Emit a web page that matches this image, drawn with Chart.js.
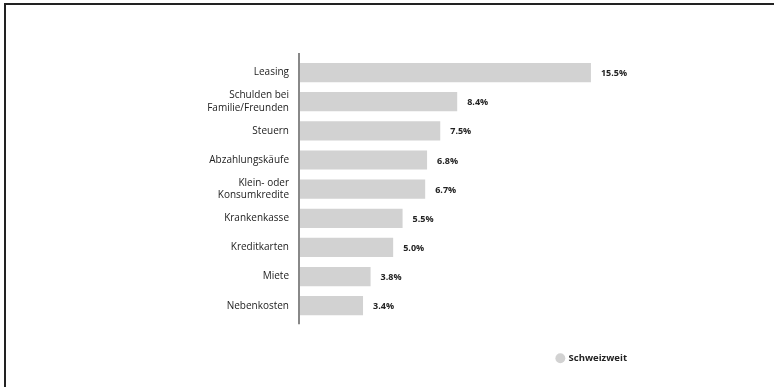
<!DOCTYPE html>
<html>
<head>
<meta charset="utf-8">
<script src="https://cdn.jsdelivr.net/npm/chart.js@4"></script>
<style>
  html, body { margin: 0; padding: 0; background: #fff; }
  #wrap { position: relative; width: 774px; height: 387px; }
  #frame { position: absolute; left: 4px; top: 3px; right: 0; bottom: 0;
           border-top: 2px solid #222; border-left: 2px solid #222; pointer-events: none; }
</style>
</head>
<body>
<div id="wrap">
  <canvas id="grafico" width="774" height="387"></canvas>
  <div id="frame"></div>
</div>
<script>
const categorias = [
  "Leasing",
  ["Schulden bei", "Familie/Freunden"],
  "Steuern",
  "Abzahlungskäufe",
  ["Klein- oder", "Konsumkredite"],
  "Krankenkasse",
  "Kreditkarten",
  "Miete",
  "Nebenkosten"
];
const valoresSchweizweit = [15.5, 8.4, 7.5, 6.8, 6.7, 5.5, 5.0, 3.8, 3.4];
const nomeSerie = "Schweizweit";

const fonte = "'Open Sans', sans-serif";

// linha do eixo e rotulos de valor
const extrasPlugin = {
  id: "extras",
  afterDatasetsDraw(chart) {
    const ctx = chart.ctx;
    const area = chart.chartArea;
    ctx.save();
    ctx.strokeStyle = "#888";
    ctx.lineWidth = 2;
    ctx.beginPath();
    ctx.moveTo(area.left, area.top - 5);
    ctx.lineTo(area.left, area.bottom + 4);
    ctx.stroke();

    const meta = chart.getDatasetMeta(0);
    ctx.fillStyle = "#222";
    ctx.font = "bold 9px " + fonte;
    ctx.textAlign = "left";
    ctx.textBaseline = "middle";
    meta.data.forEach((bar, i) => {
      const v = chart.data.datasets[0].data[i];
      ctx.fillText(v.toFixed(1) + "%", bar.x + 10, bar.y + 1);
    });
    ctx.restore();
  }
};

const ctx = document.getElementById("grafico").getContext("2d");
const myChart = new Chart(ctx, {
  type: "bar",
  data: {
    labels: categorias,
    datasets: [
      {
        label: nomeSerie,
        data: valoresSchweizweit,
        backgroundColor: "#d2d2d2",
        borderWidth: 0,
        categoryPercentage: 1,
        barPercentage: 0.66,
      },
    ],
  },
  options: {
    indexAxis: "y",
    responsive: false,
    animation: false,
    layout: {
      padding: { top: 58, right: 136, bottom: 14, left: 0 },
    },
    scales: {
      x: {
        display: false,
        min: 0,
        max: 18,
      },
      y: {
        grid: { display: false, drawTicks: false },
        border: { display: false },
        ticks: {
          padding: 10,
          color: "#222",
          font: { family: fonte, size: 10, lineHeight: 1.25 },
        },
        afterFit(scale) {
          scale.width = 299;
        },
      },
    },
    plugins: {
      legend: {
        position: "bottom",
        align: "end",
        title: {
          display: true,
          text: "",
          font: { size: 1 },
          padding: { top: 21, bottom: 0 },
        },
        labels: {
          usePointStyle: true,
          pointStyle: "circle",
          boxWidth: 7,
          boxHeight: 7,
          color: "#222",
          padding: 11,
          font: { family: fonte, size: 9.5, weight: "bold" },
        },
      },
      tooltip: { enabled: false },
    },
  },
  plugins: [extrasPlugin],
});
</script>
</body>
</html>
